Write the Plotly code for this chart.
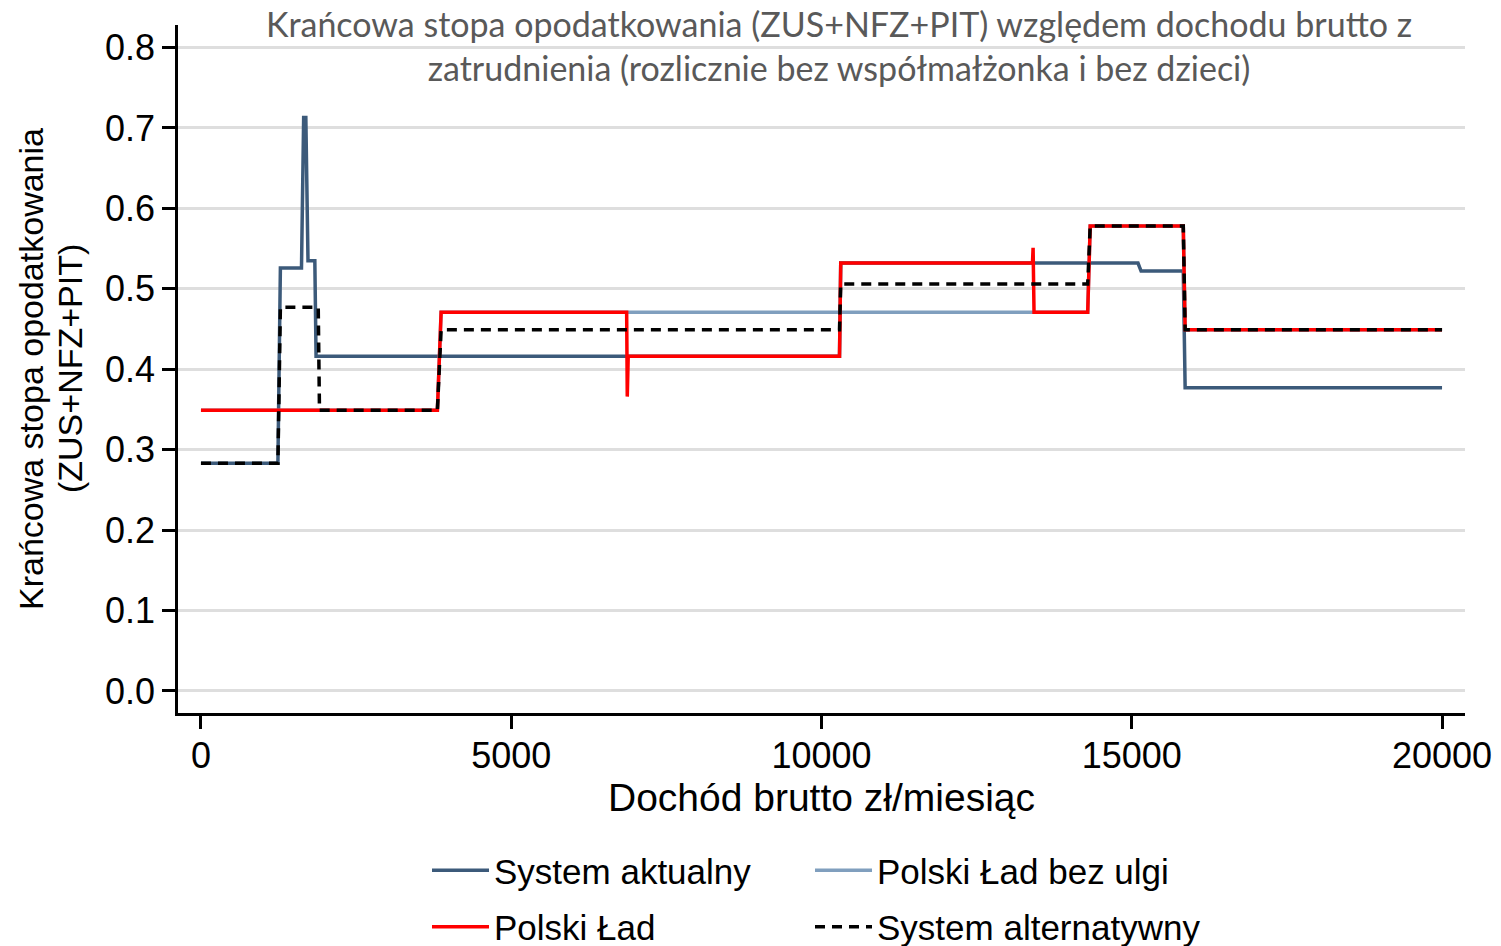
import plotly.graph_objects as go

# ---- data ----
inc_aktualny = [0, 1240, 1280, 1620, 1655, 1690, 1725, 1835, 1855, 10290, 10310, 15100, 15150, 15830, 15860, 20000]
mtr_aktualny = [0.283, 0.283, 0.526, 0.526, 0.713, 0.713, 0.535, 0.535, 0.416, 0.416, 0.532, 0.532, 0.522, 0.522, 0.377, 0.377]

inc_bez_ulgi = [0, 3810, 3870, 14290, 14330, 15830, 15860, 20000]
mtr_bez_ulgi = [0.349, 0.349, 0.471, 0.471, 0.578, 0.578, 0.449, 0.449]

inc_polski_lad = [0, 3810, 3870, 6860, 6870, 6885, 10290, 10310, 13400, 13410, 13425, 14290, 14330, 15830, 15860, 20000]
mtr_polski_lad = [0.349, 0.349, 0.471, 0.471, 0.366, 0.416, 0.416, 0.532, 0.532, 0.551, 0.471, 0.471, 0.578, 0.578, 0.449, 0.449]

inc_alternatywny = [0, 1240, 1280, 1890, 1910, 3810, 3870, 10290, 10310, 14290, 14330, 15830, 15860, 20000]
mtr_alternatywny = [0.283, 0.283, 0.477, 0.477, 0.349, 0.349, 0.449, 0.449, 0.506, 0.506, 0.578, 0.578, 0.449, 0.449]

x_ticks = [0, 5000, 10000, 15000, 20000]
y_ticks = [0.0, 0.1, 0.2, 0.3, 0.4, 0.5, 0.6, 0.7, 0.8]
y_tick_labels = ["0.0", "0.1", "0.2", "0.3", "0.4", "0.5", "0.6", "0.7", "0.8"]

title_text = ("Krańcowa stopa opodatkowania (ZUS+NFZ+PIT) względem dochodu brutto z<br>"
              "zatrudnienia (rozlicznie bez współmałżonka i bez dzieci)")
y_title_lines = ["Krańcowa stopa opodatkowania", "(ZUS+NFZ+PIT)"]

FONT = "Liberation Sans, Arial, sans-serif"

# the page body adds an 8px margin, so the figure is 8px smaller than the window
W, H = 1493, 938

fig = go.Figure()
fig.add_trace(go.Scatter(x=inc_aktualny, y=mtr_aktualny, mode="lines", name="System aktualny",
                         line=dict(color="#3c5a7a", width=3.5), legend="legend",
                         legendgroup="a", legendrank=1))
fig.add_trace(go.Scatter(x=inc_bez_ulgi, y=mtr_bez_ulgi, mode="lines", name="Polski Ład bez ulgi",
                         line=dict(color="#809fbe", width=3.5), legend="legend2",
                         legendgroup="b", legendrank=1))
fig.add_trace(go.Scatter(x=inc_polski_lad, y=mtr_polski_lad, mode="lines", name="Polski Ład",
                         line=dict(color="#ff0000", width=3.5), legend="legend",
                         legendgroup="c", legendrank=2))
fig.add_trace(go.Scatter(x=inc_alternatywny, y=mtr_alternatywny, mode="lines", name="System alternatywny",
                         line=dict(color="#000000", width=3.5, dash="10px,7px"), legend="legend2",
                         legendgroup="d", legendrank=2))

legend_common = dict(orientation="v", xref="container", yref="container",
                     xanchor="left", y=1 - 833 / H, yanchor="top", itemwidth=57,
                     font=dict(family=FONT, size=35, color="black"),
                     bgcolor="rgba(0,0,0,0)", traceorder="grouped", tracegroupgap=8)

fig.update_layout(
    width=W, height=H,
    margin=dict(l=170, r=36, t=17, b=233, autoexpand=False),
    paper_bgcolor="white", plot_bgcolor="white",
    font=dict(family=FONT, size=35, color="black"),
    title=dict(text=title_text, x=831 / W, xref="container", xanchor="center",
               y=1 - 29 / H, yref="container", yanchor="middle",
               font=dict(family="Lato, sans-serif", size=34, color="#595959")),
    showlegend=True,
    legend=dict(x=419 / W, **legend_common),
    legend2=dict(x=802 / W, **legend_common),
    xaxis=dict(range=[-370, 20370], tickvals=x_ticks, ticktext=[str(v) for v in x_ticks],
               showgrid=False, zeroline=False, showline=True, linecolor="black", linewidth=2.5,
               ticks="outside", ticklen=13, tickwidth=3, tickcolor="black", ticklabelstandoff=-4,
               tickfont=dict(family=FONT, size=36, color="black"),
               title=dict(text="Dochód brutto zł/miesiąc", font=dict(family=FONT, size=39, color="black"),
                          standoff=0)),
    yaxis=dict(range=[-0.0274, 0.828], tickvals=y_ticks, ticktext=y_tick_labels,
               showgrid=True, gridcolor="#dedede", gridwidth=3, zeroline=False,
               showline=True, linecolor="black", linewidth=2.5,
               ticks="outside", ticklen=13, tickwidth=3, tickcolor="black",
               tickfont=dict(family=FONT, size=36, color="black")),
    annotations=[
        dict(text=y_title_lines[0], xref="paper", yref="paper", x=-0.1142, y=0.5,
             xanchor="center", yanchor="middle", textangle=-90, showarrow=False,
             font=dict(family=FONT, size=34, color="black")),
        dict(text=y_title_lines[1], xref="paper", yref="paper", x=-0.0839, y=0.5,
             xanchor="center", yanchor="middle", textangle=-90, showarrow=False,
             font=dict(family=FONT, size=34, color="black")),
    ],
)

fig.write_html("out.html")
